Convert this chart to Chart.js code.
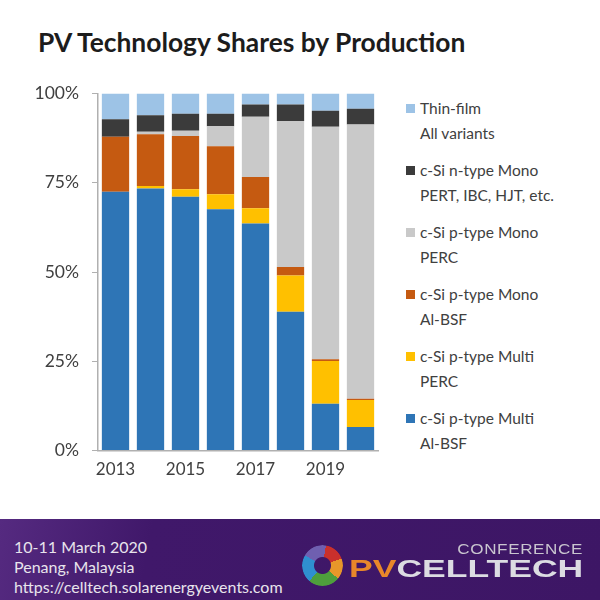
<!DOCTYPE html>
<html>
<head>
<meta charset="utf-8">
<script src="https://cdn.jsdelivr.net/npm/chart.js@4"></script>
<style>
  html, body { margin: 0; padding: 0; background: #fff; }
  #page { position: relative; width: 600px; height: 600px; overflow: hidden; font-family: Lato, sans-serif; }
  #title { position: absolute; left: 38px; top: 26px; font: bold 26.4px Lato, sans-serif; color: #1c1c1c; white-space: nowrap; }
  #chartBox { position: absolute; left: 0; top: 70px; width: 390px; height: 411px; }
  .legendItem { position: absolute; left: 406px; font: 15.5px/25px Lato, sans-serif; color: #404040; white-space: nowrap; }
  .legendItem i { position: absolute; left: 0; top: 8px; width: 9px; height: 9px; }
  .legendItem div { margin-left: 14px; }
  #banner { position: absolute; left: 0; top: 519px; width: 600px; height: 81px; background: linear-gradient(100deg, #552a80 0%, #40186a 25%, #3d1665 100%); color: #e8e4ec; }
  #banner p { position: absolute; left: 14px; margin: 0; font: 16px Lato, sans-serif; white-space: nowrap; }
  #ring { position: absolute; left: 302px; top: 26px; width: 41px; height: 41px; border-radius: 50%;
    background: conic-gradient(#6f5fb0 0 10deg, #c9302c 10deg 70deg, #e8972a 70deg 130deg, #4e9e3c 130deg 220deg, #2f8fd0 220deg 300deg, #6f5fb0 300deg 360deg);
    -webkit-mask: radial-gradient(circle, transparent 8px, #000 9px); mask: radial-gradient(circle, transparent 8px, #000 9px); }
  #conf { position: absolute; right: 17px; top: 22px; font: 14px "Liberation Sans", sans-serif; color: #c9c5cf; transform: scaleX(1.22); transform-origin: right; letter-spacing: .5px; }
  #logo { position: absolute; right: 17px; top: 36px; font: bold 24px "Liberation Sans", sans-serif; color: #dcdce2; transform: scaleX(1.48); transform-origin: right; white-space: nowrap; }
  #logo span { color: #e8872a; }
</style>
</head>
<body>
<div id="page">
  <div id="title">PV Technology Shares by Production</div>
  <div id="chartBox"><canvas id="shareChart"></canvas></div>
  <div id="legend"></div>
  <div id="banner">
    <p style="top:18px">10-11 March 2020</p>
    <p style="top:38px">Penang, Malaysia</p>
    <p style="top:58px">https://celltech.solarenergyevents.com</p>
    <div id="ring"></div>
    <div id="conf">CONFERENCE</div>
    <div id="logo"><span>PV</span>CELLTECH</div>
  </div>
</div>
<script>
const years = ["2013", "2014", "2015", "2016", "2017", "2018", "2019", "2020"];
const multiBsf = [72.5, 73.4, 71.1, 67.6, 63.6, 38.9, 13.1, 6.6];
const multiPerc = [0, 0.7, 2.1, 4.2, 4.3, 10.1, 12.0, 7.6];
const monoBsf = [15.4, 14.5, 14.9, 13.4, 8.7, 2.4, 0.5, 0.3];
const monoPerc = [0, 0.7, 1.5, 5.6, 16.9, 40.9, 65.1, 76.8];
const nType = [4.9, 4.6, 4.7, 3.5, 3.4, 4.6, 4.5, 4.4];
const thinFilm = [7.2, 6.1, 5.7, 5.7, 3.1, 3.1, 4.8, 4.3];

const seriesNames = ["c-Si p-type Multi", "c-Si p-type Multi", "c-Si p-type Mono", "c-Si p-type Mono", "c-Si n-type Mono", "Thin-film"];
const seriesNotes = ["Al-BSF", "PERC", "Al-BSF", "PERC", "PERT, IBC, HJT, etc.", "All variants"];
const seriesColors = ["#2e75b6", "#ffc000", "#c55a11", "#c9c9c9", "#3b3b3b", "#9dc3e6"];
const seriesValues = [multiBsf, multiPerc, monoBsf, monoPerc, nType, thinFilm];

const datasets = seriesValues.map((vals, i) => ({
  label: seriesNames[i] + " " + seriesNotes[i],
  data: vals,
  backgroundColor: seriesColors[i],
  categoryPercentage: 0.78,
  barPercentage: 1
}));

new Chart(document.getElementById("shareChart"), {
  type: "bar",
  data: { labels: years, datasets: datasets },
  options: {
    responsive: true,
    maintainAspectRatio: false,
    animation: false,
    layout: { padding: { left: 0, right: 12, top: 22, bottom: 0 } },
    plugins: { legend: { display: false }, tooltip: { enabled: false } },
    scales: {
      x: {
        stacked: true,
        grid: { display: false },
        border: { color: "#b0b0b0", width: 1.5 },
        ticks: { color: "#404040", padding: 1, font: { family: "Lato", size: 17 }, maxRotation: 0, autoSkip: false,
                 callback: function(v, i) { return i % 2 === 0 ? years[i] : ""; } }
      },
      y: {
        stacked: true,
        min: 0,
        max: 100,
        grid: { drawOnChartArea: false, drawTicks: true, tickLength: 6, color: "#b0b0b0" },
        border: { color: "#b0b0b0", width: 1.5 },
        afterFit: function(scale) { scale.width = 98; },
        ticks: { stepSize: 25, color: "#404040", padding: 13, font: { family: "Lato", size: 17.5 },
                 callback: function(v) { return v + "%"; } }
      }
    }
  }
});

// legend reads top down, last series first
const legendBox = document.getElementById("legend");
seriesNames.forEach((name, i) => {
  const row = document.createElement("div");
  row.className = "legendItem";
  row.style.top = (96 + (5 - i) * 62) + "px";
  row.innerHTML = `<i style="background:${seriesColors[i]}"></i><div>${name}<br>${seriesNotes[i]}</div>`;
  legendBox.appendChild(row);
});
</script>
</body>
</html>
